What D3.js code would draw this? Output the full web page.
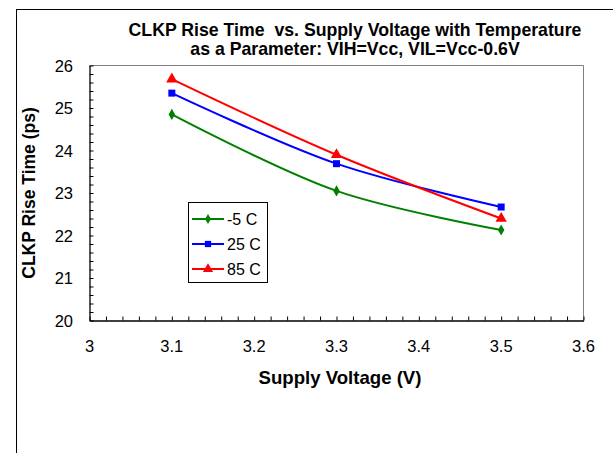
<!DOCTYPE html>
<html>
<head>
<meta charset="utf-8">
<script src="https://cdn.jsdelivr.net/npm/d3@7"></script>
<style>
  html, body { margin: 0; padding: 0; background: #fff; }
  svg { display: block; font-family: "Liberation Sans", Arial, sans-serif; }
  text { white-space: pre; }
</style>
</head>
<body>
<svg id="chart" width="613" height="453"></svg>
<script>
// ---- data ----
const voltages = [3.1, 3.3, 3.5];
const seriesNames = ["-5 C", "25 C", "85 C"];
const valsMinus5 = [24.85, 23.05, 22.13];
const vals25 = [25.35, 23.69, 22.67];
const vals85 = [25.68, 23.90, 22.40];
const xTicks = [3, 3.1, 3.2, 3.3, 3.4, 3.5, 3.6];
const yTicks = [20, 21, 22, 23, 24, 25, 26];
const titleLines = ["CLKP Rise Time  vs. Supply Voltage with Temperature",
                    "as a Parameter: VIH=Vcc, VIL=Vcc-0.6V"];
const xLabel = "Supply Voltage (V)";
const yLabel = "CLKP Rise Time (ps)";

const colors = ["#008000", "#0000FF", "#FF0000"];
const symbols = [d3.symbolDiamond, d3.symbolSquare, d3.symbolTriangle];
const symSizes = [36, 49, 56];
const series = [valsMinus5, vals25, vals85].map((v, i) => ({
  name: seriesNames[i], color: colors[i], symbol: symbols[i], size: symSizes[i],
  pts: voltages.map((x, j) => ({x, y: v[j]}))
}));

const svg = d3.select("#chart");
// outer frame
svg.append("rect").attr("x", 16.5).attr("y", 9.5).attr("width", 700).attr("height", 600)
  .attr("fill", "none").attr("stroke", "#000").attr("stroke-width", 1);

const L = 89.5, R = 583.5, T = 65.5, B = 320.5;
const x = d3.scaleLinear().domain([3, 3.6]).range([L, R]);
const y = d3.scaleLinear().domain([20, 26]).range([B, T]);

// plot border (gray top/right)
svg.append("path").attr("d", `M${L},${T}H${R}V${B}`).attr("fill", "none")
  .attr("stroke", "#808080").attr("stroke-width", 1);

// axes
const xAxis = d3.axisBottom(x).tickValues(d3.range(0, 31).map(i => 3 + i * 0.02))
  .tickSizeInner(-4).tickSizeOuter(0).tickFormat("");
const gx = svg.append("g").attr("transform", `translate(0,${B})`).call(xAxis);
const yAxis = d3.axisLeft(y).tickValues(d3.range(0, 31).map(i => 20 + i * 0.2))
  .tickSizeInner(-4).tickSizeOuter(0).tickFormat("");
const gy = svg.append("g").attr("transform", `translate(${L},0)`).call(yAxis);
[gx, gy].forEach(g => {
  g.selectAll("path.domain").attr("stroke", "#000").attr("stroke-width", 1.3);
  g.selectAll(".tick line").attr("stroke", "#000").attr("stroke-width", 1);
});

// tick labels
svg.append("g").selectAll("text").data(xTicks).join("text")
  .attr("x", d => x(d)).attr("y", 352).attr("text-anchor", "middle")
  .attr("font-size", 16.5).attr("fill", "#000").text(d => d3.format("")(d));
svg.append("g").selectAll("text").data(yTicks).join("text")
  .attr("x", 73).attr("y", d => y(d) + 6).attr("text-anchor", "end")
  .attr("font-size", 16.5).attr("fill", "#000").text(d => d);

// titles
svg.append("g").selectAll("text").data(titleLines).join("text")
  .attr("x", 355).attr("y", (d, i) => 36 + i * 18.5).attr("text-anchor", "middle")
  .attr("font-size", 17.7).attr("font-weight", "bold").text(d => d);
svg.append("text").attr("x", 340).attr("y", 384).attr("text-anchor", "middle")
  .attr("font-size", 18.6).attr("font-weight", "bold").text(xLabel);
svg.append("text").attr("transform", `translate(35,193) rotate(-90)`).attr("text-anchor", "middle")
  .attr("font-size", 17.5).attr("font-weight", "bold").text(yLabel);

// lines
const line = d3.line().x(d => x(d.x)).y(d => y(d.y)).curve(d3.curveCatmullRom.alpha(0.5));
const gs = svg.append("g").selectAll("g").data(series).join("g");
gs.append("path").attr("d", d => line(d.pts)).attr("fill", "none")
  .attr("stroke", d => d.color).attr("stroke-width", 2);
gs.each(function(s) {
  d3.select(this).selectAll("path.m").data(s.pts).join("path").attr("class", "m")
    .attr("transform", d => `translate(${x(d.x)},${y(d.y)})`)
    .attr("d", d3.symbol().type(s.symbol).size(s.size)).attr("fill", s.color);
});

// legend
const lg = svg.append("g");
lg.append("rect").attr("x", 188.5).attr("y", 202.5).attr("width", 79).attr("height", 80)
  .attr("fill", "#fff").attr("stroke", "#000").attr("stroke-width", 1);
const li = lg.selectAll("g").data(series).join("g")
  .attr("transform", (d, i) => `translate(0,${219 + i * 25})`);
li.append("line").attr("x1", 192).attr("x2", 224).attr("stroke", d => d.color).attr("stroke-width", 2);
li.append("path").attr("transform", "translate(208,0)")
  .attr("d", d => d3.symbol().type(d.symbol).size(d.size * 0.8)()).attr("fill", d => d.color);
li.append("text").attr("x", 227).attr("y", 6).attr("font-size", 16).text(d => d.name);
</script>
</body>
</html>
